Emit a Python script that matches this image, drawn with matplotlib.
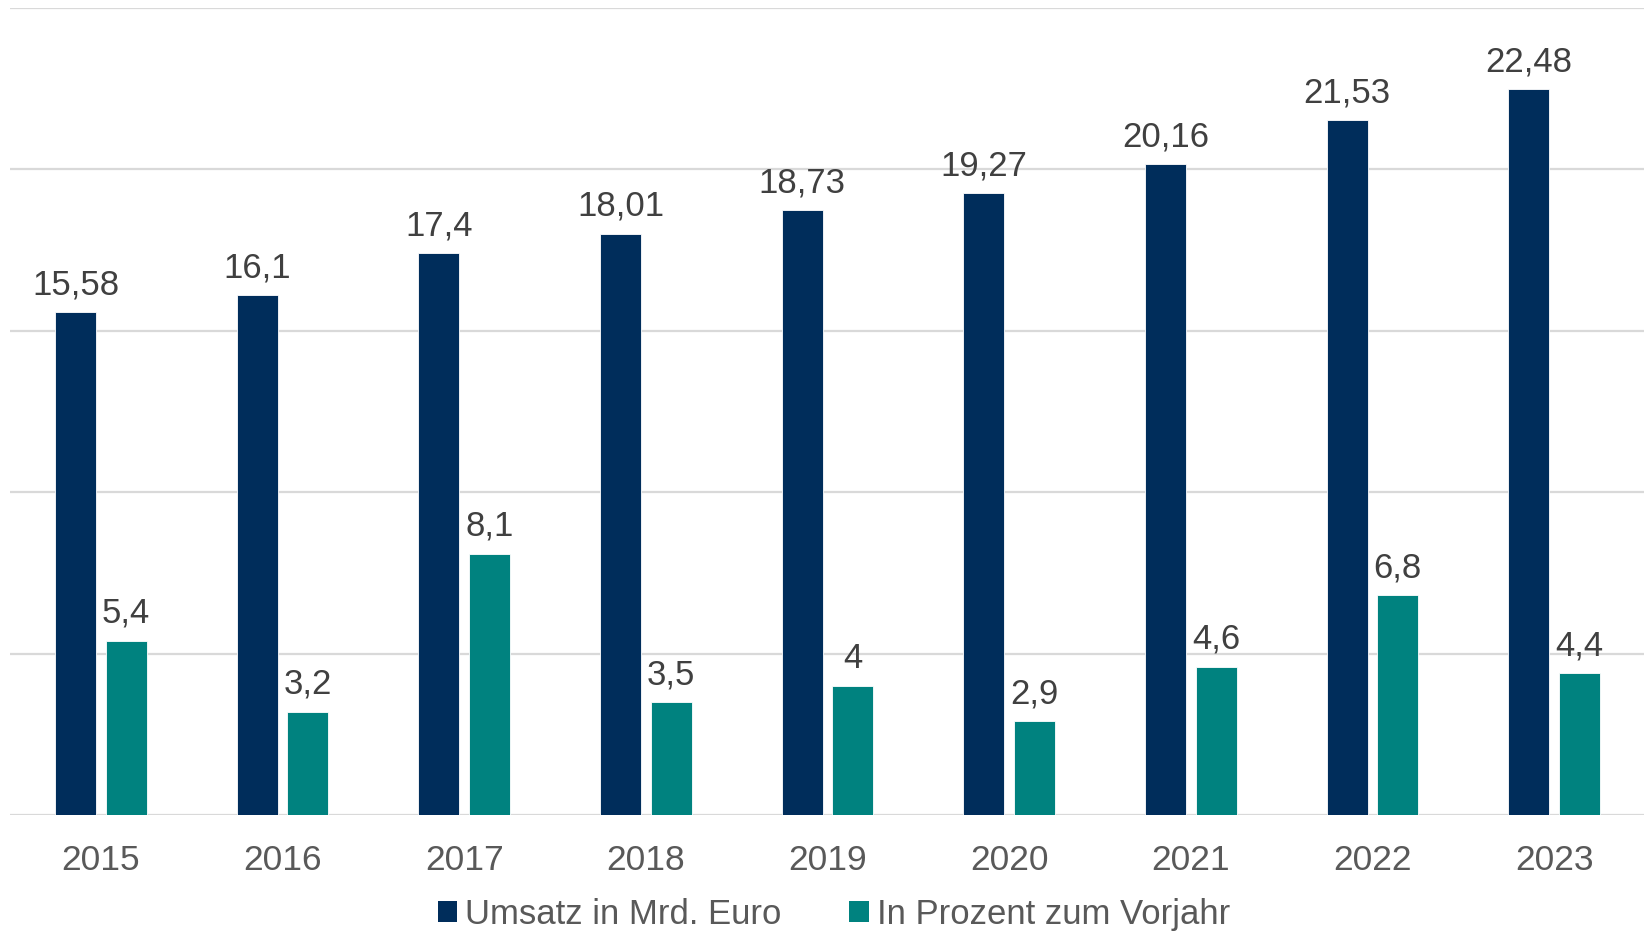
import numpy as np
import matplotlib
matplotlib.use("Agg")
import matplotlib.pyplot as plt
from matplotlib.patches import Patch

# --- data ---
years = ["2015", "2016", "2017", "2018", "2019", "2020", "2021", "2022", "2023"]
umsatz = [15.58, 16.1, 17.4, 18.01, 18.73, 19.27, 20.16, 21.53, 22.48]
prozent = [5.4, 3.2, 8.1, 3.5, 4.0, 2.9, 4.6, 6.8, 4.4]
umsatz_labels = ["15,58", "16,1", "17,4", "18,01", "18,73", "19,27", "20,16", "21,53", "22,48"]
prozent_labels = ["5,4", "3,2", "8,1", "3,5", "4", "2,9", "4,6", "6,8", "4,4"]

navy = "#002D5B"
teal = "#00827F"

plt.rcParams["font.family"] = ["Liberation Sans", "DejaVu Sans"]

W, H = 1644, 937
fig = plt.figure(figsize=(W / 100, H / 100), dpi=100)
ax = fig.add_axes([10 / W, 1 - 816 / H, 1635 / W, 807 / H])

x = np.arange(len(years))
w = 0.225
off = 0.139
b1 = ax.bar(x - off, umsatz, width=w, color=navy, edgecolor="white", linewidth=0.6, zorder=3)
b2 = ax.bar(x + off, prozent, width=w, color=teal, edgecolor="white", linewidth=0.6, zorder=3)

for bars, labels in [(b1, umsatz_labels), (b2, prozent_labels)]:
    for rect, lab in zip(bars, labels):
        ax.annotate(lab, (rect.get_x() + rect.get_width() / 2, rect.get_height()),
                    xytext=(0, 8.5), textcoords="offset points",
                    ha="center", va="bottom", fontsize=25, color="#404040")

ax.set_xlim(-0.5, len(years) - 0.5)
ax.set_ylim(0, 25)
ax.set_yticks([0, 5, 10, 15, 20, 25])
ax.yaxis.grid(True, color="#D9D9D9", linewidth=1.6, zorder=0)
ax.set_axisbelow(True)
ax.tick_params(axis="y", left=False, labelleft=False)
ax.set_xticks(x)
ax.set_xticklabels(years, fontsize=25.5, color="#595959")
ax.tick_params(axis="x", length=0, pad=20)
for s in ax.spines.values():
    s.set_visible(False)

handles = [Patch(facecolor=navy, label="Umsatz in Mrd. Euro"),
           Patch(facecolor=teal, label="In Prozent zum Vorjahr")]
fig.legend(handles=handles, loc="center", bbox_to_anchor=(834 / W, 1 - 915 / H),
           ncol=2, frameon=False, fontsize=25, labelcolor="#595959",
           handlelength=0.55, handleheight=0.55, handletextpad=0.25, columnspacing=1.95,
           borderpad=0.1)

fig.savefig("out.png", dpi=100)
